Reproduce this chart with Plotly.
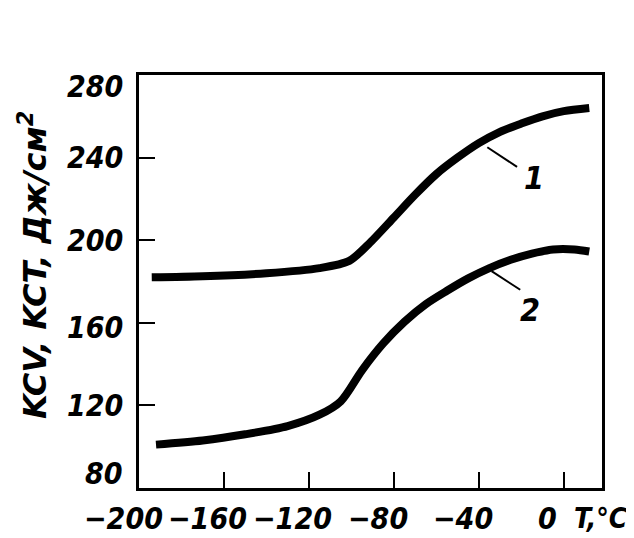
import plotly.graph_objects as go

# Curve 1 (KCV)
t1 = [-194, -170, -140, -115, -101, -92, -80, -70, -60, -50, -40, -30, -20, -10, 0, 12]
v1 = [182, 182.5, 184, 186.5, 190, 198, 211, 222, 232, 240, 247, 252.5, 256.5, 260, 262.5, 264]
# Curve 2 (KCT)
t2 = [-192, -170, -150, -130, -115, -105, -95, -85, -75, -65, -55, -45, -35, -25, -15, -5, 5, 12]
v2 = [101, 103, 106, 110, 115.5, 122, 137, 150, 160.5, 169, 175.5, 181.5, 186.5, 190.5, 193.5, 195.5, 195.5, 194.5]

x_ticks = [-200, -160, -120, -80, -40, 0]
x_labels = ["−200", "−160", "−120", "−80", "−40", "0"]
y_ticks = [80, 120, 160, 200, 240, 280]
y_labels = ["80", "120", "160", "200", "240", "280"]

# label placement tweaks (style only)
y_label_shift = [15, 0, -5, 0, 0, -11]
x_label_shift = -16

FONT = "DejaVu Sans Condensed, DejaVu Sans"
OFF = 8  # default page body margin
W, H = 634 - OFF, 538 - OFF
L, T = 139 - OFF, 75 - OFF
R, B = W - (602 - OFF), H - (488 - OFF)
pw, ph = W - L - R, H - T - B

def px_x(x):  # page pixel -> paper fraction
    return (x - OFF - L) / pw

def px_y(y):
    return ((H - B) - (y - OFF)) / ph

lab_font = dict(family=FONT, size=30, color="black", style="italic", weight="bold")

fig = go.Figure()
for t, v in [(t1, v1), (t2, v2)]:
    fig.add_trace(go.Scatter(x=t, y=v, mode="lines",
                             line=dict(color="black", width=8, shape="spline", smoothing=0.8),
                             showlegend=False, hoverinfo="skip"))

# leader lines and curve labels
fig.add_shape(type="line", x0=-36, y0=245, x1=-22, y1=235.5, line=dict(color="black", width=2))
fig.add_shape(type="line", x0=-34, y0=185, x1=-20.5, y1=176, line=dict(color="black", width=2))
fig.add_annotation(x=-14, y=230, text="1", showarrow=False,
                   font=dict(family=FONT, size=32, color="black", style="italic"))
fig.add_annotation(x=-16, y=166, text="2", showarrow=False,
                   font=dict(family=FONT, size=32, color="black", style="italic"))

# tick labels (placed like in the original typesetting)
for v, s in zip(x_ticks, x_labels):
    fig.add_annotation(x=v, xref="x", y=px_y(518), yref="paper", text=s, showarrow=False,
                       xanchor="center", yanchor="middle", xshift=x_label_shift, font=lab_font)
for v, s, sh in zip(y_ticks, y_labels, y_label_shift):
    fig.add_annotation(x=px_x(125), xref="paper", y=v, yref="y", text=s, showarrow=False,
                       xanchor="right", yanchor="middle", yshift=sh, font=lab_font)

# x-axis unit
fig.add_annotation(xref="paper", yref="paper", x=px_x(572), y=px_y(518),
                   xanchor="left", yanchor="middle", text="T,°C", showarrow=False,
                   font=dict(family=FONT, size=28, color="black", style="italic", weight="bold"))
# y-axis title
fig.add_annotation(xref="paper", yref="paper", x=px_x(33), y=px_y(265),
                   xanchor="center", yanchor="middle", textangle=-90,
                   text="KCV, KCT, Дж/см<sup>2</sup>", showarrow=False,
                   font=dict(family="DejaVu Sans", size=32, color="black", style="italic", weight="bold"))

fig.update_layout(
    width=W, height=H,
    margin=dict(l=L, r=R, t=T, b=B, autoexpand=False),
    paper_bgcolor="white", plot_bgcolor="white",
    font=dict(family=FONT, size=30, color="black", style="italic", weight="bold"),
)
fig.update_xaxes(range=[-200, 18], tickvals=x_ticks, showticklabels=False,
                 ticks="inside", ticklen=16, tickwidth=2, tickcolor="black",
                 showline=True, linewidth=3, linecolor="black", mirror=True,
                 showgrid=False, zeroline=False, automargin=False)
fig.update_yaxes(range=[80, 280], tickvals=y_ticks, showticklabels=False,
                 ticks="inside", ticklen=16, tickwidth=2, tickcolor="black",
                 showline=True, linewidth=3, linecolor="black", mirror=True,
                 showgrid=False, zeroline=False, automargin=False)

fig.write_html("out.html")
